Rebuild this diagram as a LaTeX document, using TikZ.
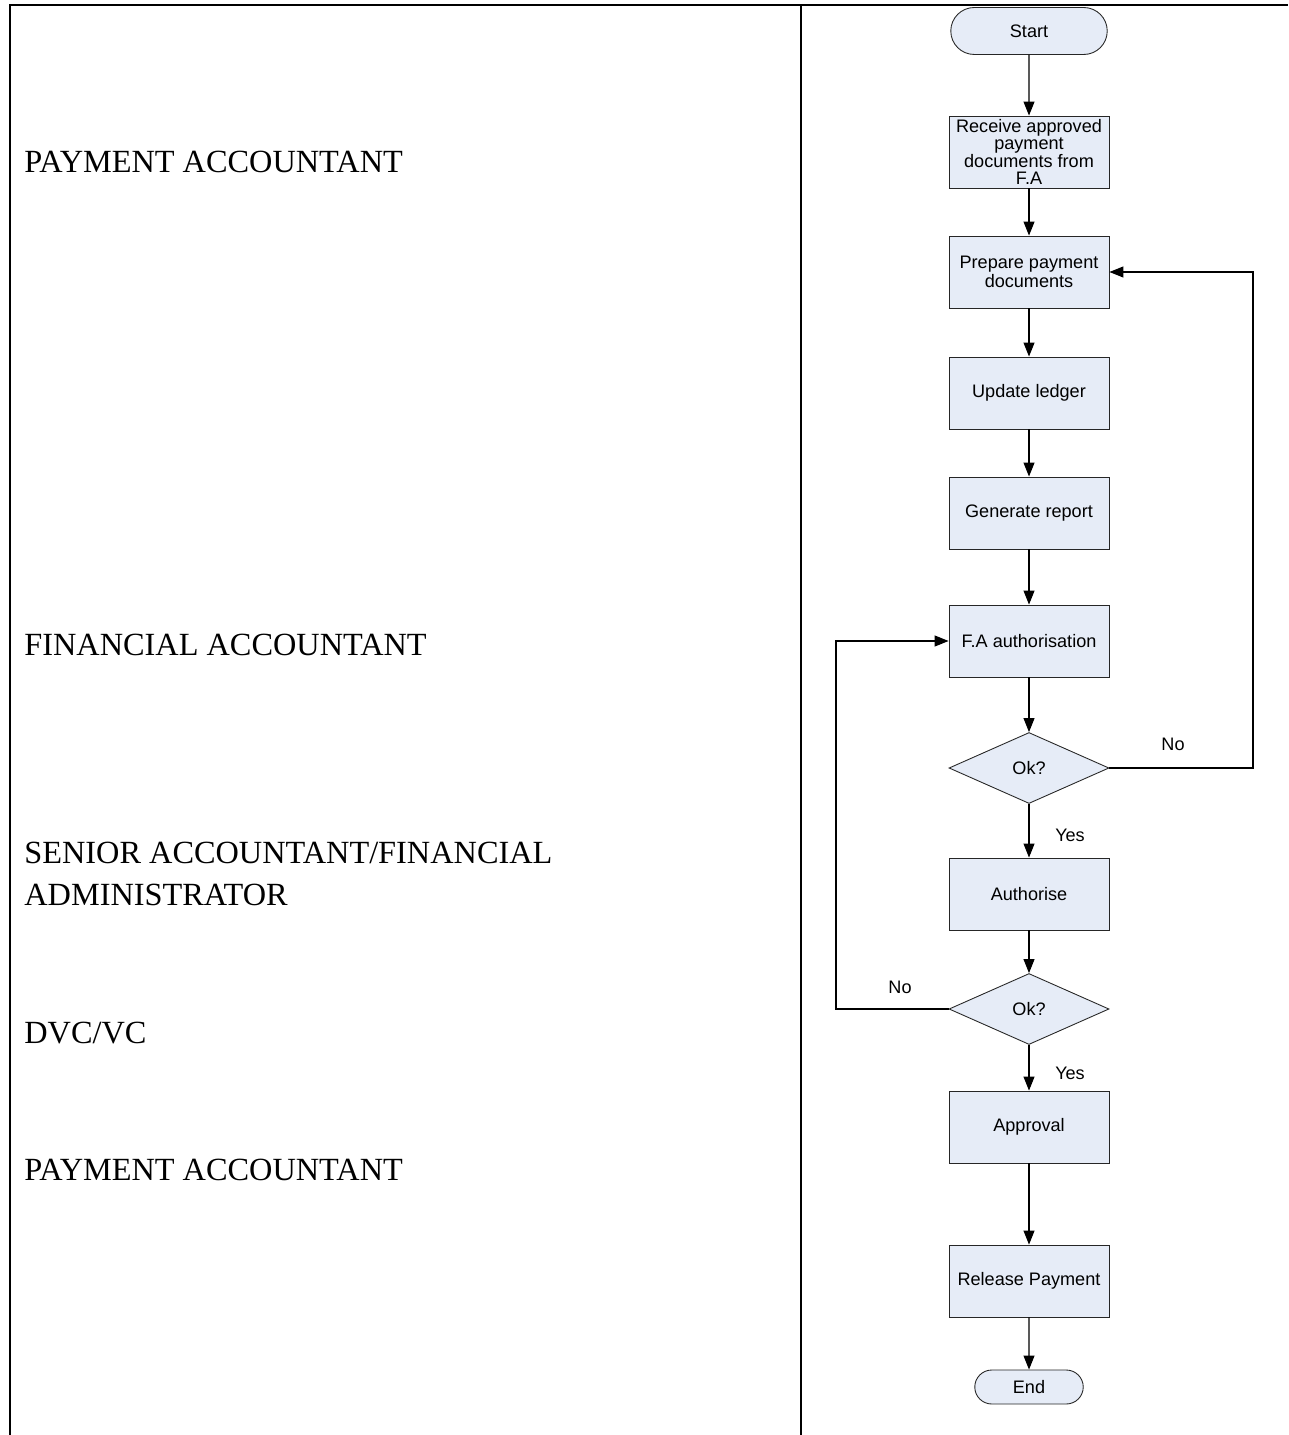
\documentclass[tikz,border=0pt]{standalone}
\usepackage{fontspec}
\setmainfont{Liberation Serif}
\newfontfamily\chartfont{Liberation Sans}
\usetikzlibrary{shapes.geometric, shapes.misc, arrows.meta}
\definecolor{boxfill}{HTML}{E6ECF7}
\tikzset{
    > = {Triangle[width=2.2mm, length=2.8mm]},
    flow/.style = {->, line width=0.6pt},
    process/.style = {draw=black!85, fill=boxfill, line width=0.5pt, minimum width=3.2cm,
        minimum height=1.44cm, align=center, inner sep=1pt,
        font=\chartfont\fontsize{10.3}{9.4}\selectfont},
    terminal/.style = {process, rounded rectangle, minimum height=0.94cm},
    decision/.style = {process, diamond, minimum height=1.42cm},
    role/.style = {anchor=west, align=left, inner sep=0pt,
        font=\fontsize{18.4}{24}\selectfont},
    tag/.style = {font=\chartfont\fontsize{10.3}{11}\selectfont}
}

\begin{document}
\begin{tikzpicture}[x=0.02cm, y=-0.02cm]
    \useasboundingbox (0, 0) rectangle (1288, 1435);

    % table
    \draw[line width=1.1pt] (10, 1435) -- (10, 5) -- (1288, 5);
    \draw[line width=1.1pt] (801, 5) -- (801, 1435);

    % roles
    \node[role] (payacc) at (24, 162) {PAYMENT ACCOUNTANT};
    \node[role] (finacc) at (24, 645) {FINANCIAL ACCOUNTANT};
    \node[role] (senior) at (24, 874) {SENIOR ACCOUNTANT/FINANCIAL\\ADMINISTRATOR};
    \node[role] (dvc) at (24, 1033) {DVC/VC};
    \node[role] (payacc2) at (24, 1170) {PAYMENT ACCOUNTANT};

    % flow
    \node[terminal] (start) at (1029, 31) {Start};
    \node[process] (receive) at (1029, 152) {Receive approved\\payment\\documents from\\F.A};
    \node[process] (prepare) at (1029, 272) {Prepare payment\\documents};
    \node[process] (ledger) at (1029, 393) {Update ledger};
    \node[process] (report) at (1029, 513) {Generate report};
    \node[process] (faauth) at (1029, 641) {F.A authorisation};
    \node[decision] (ok1) at (1029, 768) {Ok?};
    \node[process] (authorise) at (1029, 894) {Authorise};
    \node[decision] (ok2) at (1029, 1009) {Ok?};
    \node[process] (approval) at (1029, 1127) {Approval};
    \node[process] (release) at (1029, 1281) {Release Payment};
    \node[terminal, minimum width=2.24cm, minimum height=0.68cm] (end) at (1029, 1387) {End};

    \coordinate (backright) at (1253, 272);
    \coordinate (backleft) at (836, 641);

    \draw[flow] (start) -- (receive);
    \draw[flow] (receive) -- (prepare);
    \draw[flow] (prepare) -- (ledger);
    \draw[flow] (ledger) -- (report);
    \draw[flow] (report) -- (faauth);
    \draw[flow] (faauth) -- (ok1);
    \draw[flow] (ok1) -- (authorise);
    \draw[flow] (authorise) -- (ok2);
    \draw[flow] (ok2) -- (approval);
    \draw[flow] (approval) -- (release);
    \draw[flow] (release) -- (end);
    \draw[flow] (ok1.east) -| (backright) -- (prepare.east);
    \draw[flow] (ok2.west) -| (backleft) -- (faauth.west);

    \node[tag] (no1) at (1173, 744) {No};
    \node[tag] (yes1) at (1070, 835) {Yes};
    \node[tag] (no2) at (900, 987) {No};
    \node[tag] (yes2) at (1070, 1073) {Yes};
\end{tikzpicture}
\end{document}
